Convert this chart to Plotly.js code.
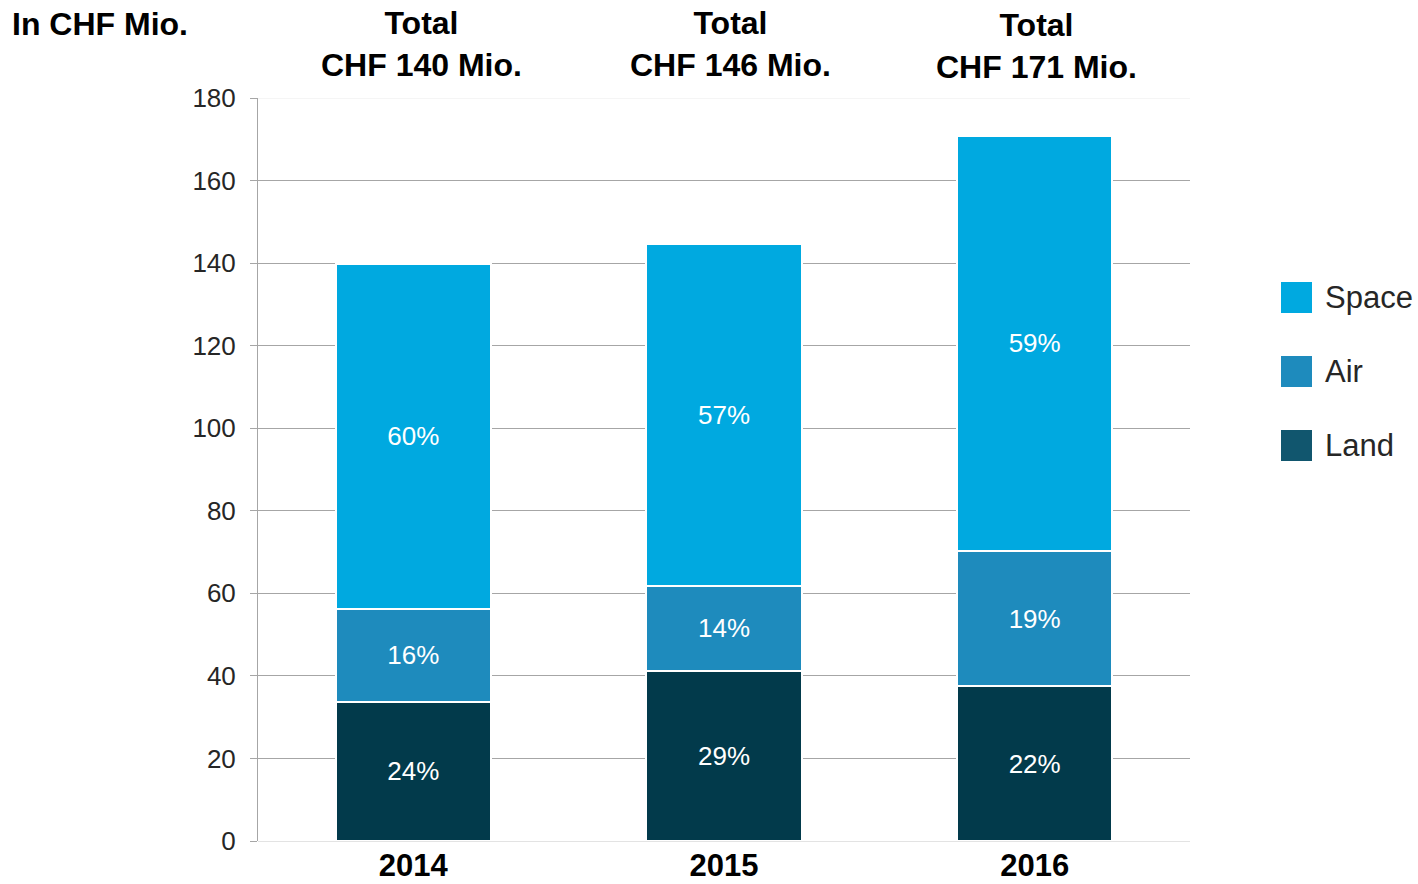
<!DOCTYPE html>
<html>
<head>
<meta charset="utf-8">
<script src="https://cdn.plot.ly/plotly-3.0.1.min.js"></script>
<style>html,body{margin:0;padding:0;background:#fff;}#chart{width:1418px;height:884px;}</style>
</head>
<body>
<div id="chart"></div>
<script>
// ---- data ----
const years = ['2014', '2015', '2016'];
const landValues = [33.7, 41.2, 37.5];
const airValues = [22.5, 20.6, 32.8];
const spaceValues = [83.6, 82.8, 100.5];
const landLabels = ['24%', '29%', '22%'];
const airLabels = ['16%', '14%', '19%'];
const spaceLabels = ['60%', '57%', '59%'];
const totalLabels = ['Total<br>CHF 140 Mio.', 'Total<br>CHF 146 Mio.', 'Total<br>CHF 171 Mio.'];
const seriesNames = ['Space', 'Air', 'Land'];
const yTicks = [0, 20, 40, 60, 80, 100, 120, 140, 160, 180];
const unitLabel = 'In CHF Mio.';

// ---- styles ----
const FONT = 'Liberation Sans, Arial, Helvetica, sans-serif';
const barColors = {Space: '#00A9E0', Air: '#1E8BBD', Land: '#023A4B'};
const legendColors = {Space: '#00A9E0', Air: '#1E8BBD', Land: '#11566E'};

const W = 1418, H = 884;
const ml = 258, mr = 228, mt = 98, mb = 43;
const ph = H - mt - mb, pw = W - ml - mr;
const px2x = px => (px - ml) / pw;
const px2y = py => (H - mb - py) / ph;

function barTrace(name, vals, labels) {
  return {
    type: 'bar', name: name, x: years, y: vals, text: labels,
    textposition: 'inside', insidetextanchor: 'middle', textangle: 0,
    textfont: {family: FONT, size: 26, color: '#ffffff'},
    marker: {color: barColors[name], line: {color: '#ffffff', width: 2}},
    hoverinfo: 'skip', showlegend: false
  };
}

const data = [
  barTrace('Land', landValues, landLabels),
  barTrace('Air', airValues, airLabels),
  barTrace('Space', spaceValues, spaceLabels)
];

const totalShiftX = [8, 6, 2];
const totalShiftY = [13, 13, 11];
const annotations = [];
years.forEach((yr, i) => {
  annotations.push({
    x: i, xref: 'x', y: 1, yref: 'paper', yanchor: 'bottom', xanchor: 'center',
    xshift: totalShiftX[i], yshift: totalShiftY[i],
    text: '<b>' + totalLabels[i] + '</b>', showarrow: false,
    font: {family: FONT, size: 32, color: '#000000'}
  });
});
annotations.push({
  x: px2x(10), xref: 'paper', y: px2y(24), yref: 'paper', showarrow: false,
  text: '<b>' + unitLabel + '</b>', xanchor: 'left', yanchor: 'middle',
  font: {family: FONT, size: 32, color: '#000000'}
});

// manual legend (large squares)
const shapes = [];
const legendTop = 282, legendStep = 74, sq = 31;
seriesNames.forEach((n, i) => {
  const top = legendTop + i * legendStep;
  shapes.push({
    type: 'rect', xref: 'paper', yref: 'paper', layer: 'above',
    x0: px2x(1281), x1: px2x(1281 + sq),
    y0: px2y(top + sq), y1: px2y(top), line: {width: 0}, fillcolor: legendColors[n]
  });
  annotations.push({
    x: px2x(1323), xref: 'paper', y: px2y(top + sq / 2), yref: 'paper',
    xanchor: 'left', yanchor: 'middle', showarrow: false, text: n,
    font: {family: FONT, size: 31, color: '#262626'}
  });
});

// light top border line at 180
shapes.push({type: 'line', xref: 'paper', yref: 'y', x0: 0, x1: 1, y0: 180, y1: 180,
  line: {color: '#ececec', width: 1}, layer: 'below'});

const layout = {
  width: W, height: H,
  margin: {l: ml, r: mr, t: mt, b: mb, pad: 0},
  paper_bgcolor: '#ffffff', plot_bgcolor: '#ffffff',
  barmode: 'stack', bargap: 0.5,
  showlegend: false,
  font: {family: FONT},
  xaxis: {
    type: 'category', range: [-0.5, 2.5], showgrid: false, showline: false,
    ticks: '', tickfont: {family: FONT, size: 31, color: '#000000', weight: 'bold'},
    ticklabelstandoff: 3, fixedrange: true
  },
  yaxis: {
    range: [0, 180], tickvals: yTicks, ticktext: yTicks.map(String),
    showgrid: true, gridcolor: '#a6a6a6', gridwidth: 1,
    zeroline: true, zerolinecolor: '#e3e3e3', zerolinewidth: 1,
    showline: true, linecolor: '#a6a6a6', linewidth: 1,
    ticks: 'outside', ticklen: 7, tickcolor: '#a6a6a6', tickwidth: 1,
    tickfont: {family: FONT, size: 26, color: '#262626'},
    ticklabelstandoff: 9, fixedrange: true
  },
  annotations: annotations,
  shapes: shapes
};

Plotly.newPlot('chart', data, layout, {displayModeBar: false, staticPlot: true});
</script>
</body>
</html>
